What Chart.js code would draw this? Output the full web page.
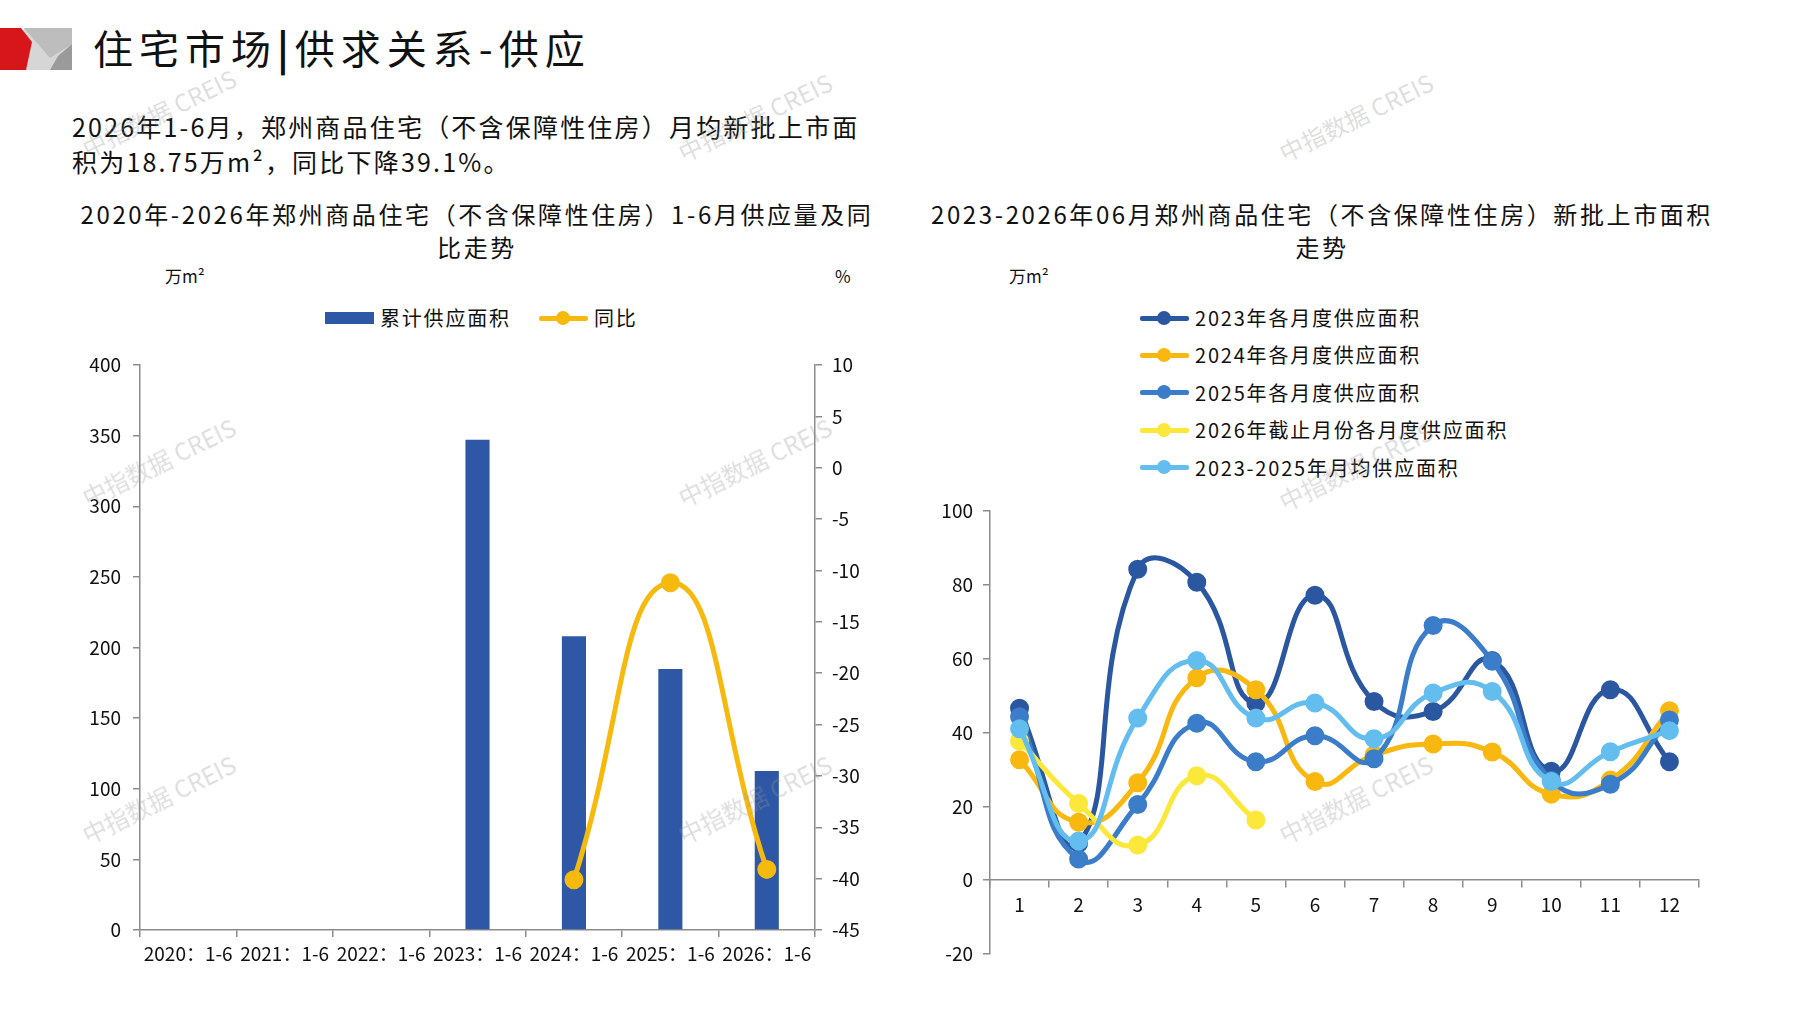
<!DOCTYPE html>
<html>
<head>
<meta charset="utf-8">
<script src="https://cdn.jsdelivr.net/npm/chart.js@4.4.1/dist/chart.umd.min.js"></script>
<style>
body{margin:0;width:1797px;height:1010px;background:#fff;position:relative;overflow:hidden;font-family:"Noto Sans CJK SC",sans-serif;color:#111}
.abs{position:absolute;white-space:nowrap}
.ctitle{position:absolute;width:900px;text-align:center;font-size:24px;line-height:33px;letter-spacing:2.6px;white-space:nowrap}
.wm{position:absolute;white-space:nowrap;font-family:"Noto Sans CJK SC",sans-serif;font-size:24px;color:rgba(150,150,150,0.32);transform:rotate(-26deg);transform-origin:center}
.lg-row{position:absolute;display:flex;align-items:center;font-size:20px;letter-spacing:1.8px;white-space:nowrap}
.lg-sym{position:relative;width:49px;height:14px;margin-right:6px}
.lg-line{position:absolute;left:0;top:5px;width:49px;height:5px;border-radius:2px}
.lg-dot{position:absolute;left:17px;top:0;width:14px;height:14px;border-radius:50%}
.lg-box{position:absolute;left:0;top:1px;width:49px;height:12px}
</style>
</head>
<body>

<svg class="abs" style="left:0;top:28px" width="74" height="43">
  <polygon points="24,0 72,0 72,42 24,42" fill="#d6d6d6"/>
  <polygon points="24,0 72,0 72,16 50,30" fill="#bdbdbd"/>
  <polygon points="72,16 72,42 50,42 58,28" fill="#9a9a9a"/>
  <polygon points="0,0 21,0 32,14 26,42 0,42" fill="#d7161c"/>
</svg>
<div class="abs" style="left:93px;top:18px;font-size:40px;letter-spacing:6px">住宅市场<span style="font-weight:bold">|</span>供求关系-供应</div>

<div class="abs" style="left:72px;top:109px;font-size:25px;line-height:35px;letter-spacing:2.2px">2026年1-6月，郑州商品住宅（不含保障性住房）月均新批上市面<br>积为18.75万m²，同比下降39.1%。</div>

<div class="ctitle" style="left:27px;top:197px">2020年-2026年郑州商品住宅（不含保障性住房）1-6月供应量及同<br>比走势</div>
<div class="abs" style="left:165px;top:263px;font-size:17px">万m²</div>
<div class="abs" style="left:835px;top:263px;font-size:17px">%</div>
<div id="legendLeft"></div>

<div class="ctitle" style="left:872px;top:197px">2023-2026年06月郑州商品住宅（不含保障性住房）新批上市面积<br>走势</div>
<div class="abs" style="left:1009px;top:263px;font-size:17px">万m²</div>
<div id="legendRight"></div>

<div class="abs" style="left:60px;top:330px;width:820px;height:660px"><canvas id="leftChart" width="820" height="660"></canvas></div>
<div class="abs" style="left:900px;top:480px;width:860px;height:520px"><canvas id="rightChart" width="860" height="520"></canvas></div>

<div id="marks"></div>

<script>
// 左图：1-6月累计供应面积（万m²）及同比（%）
var periods = ["2020：1-6", "2021：1-6", "2022：1-6", "2023：1-6", "2024：1-6", "2025：1-6", "2026：1-6"];
var supplyArea = [null, null, null, 347, 208, 184.7, 112.5];
var supplyYoY = [null, null, null, null, -40.1, -11.2, -39.1];

// 右图：各月新批上市面积（万m²）
var months = ["1", "2", "3", "4", "5", "6", "7", "8", "9", "10", "11", "12"];
var area2023 = [46.6, 10.0, 84.2, 80.7, 48.0, 77.2, 48.4, 45.7, 59.5, 29.5, 51.6, 32.1];
var area2024 = [32.6, 15.7, 26.4, 54.8, 51.6, 26.7, 33.9, 36.9, 34.7, 23.3, 27.1, 45.9];
var area2025 = [44.3, 5.7, 20.5, 42.5, 32.1, 39.1, 32.9, 69.0, 59.3, 27.0, 26.0, 43.4];
var area2026 = [37.7, 20.8, 9.5, 28.3, 16.3];
var areaAvg = [41.0, 10.6, 43.9, 59.5, 43.9, 48.0, 38.3, 50.7, 51.1, 26.7, 34.8, 40.5];

var axisGray = "#8c8c8c";
var tickFont = {family: "Noto Sans CJK SC", size: 19};

function fixSize(dim, v) {
    return function(scale) { scale[dim] = v; };
}

var leftChart = new Chart(document.getElementById("leftChart"), {
    type: "bar",
    data: {
        labels: periods,
        datasets: [
            {
                label: "累计供应面积",
                data: supplyArea,
                backgroundColor: "#2e58a6",
                yAxisID: "y",
                order: 1,
                categoryPercentage: 1,
                barPercentage: 0.25
            },
            {
                type: "line",
                label: "同比",
                data: supplyYoY,
                borderColor: "#f6b90e",
                backgroundColor: "#f6b90e",
                borderWidth: 5,
                pointRadius: 7,
                pointHoverRadius: 7,
                tension: 0.5,
                yAxisID: "y1",
                order: 0
            }
        ]
    },
    options: {
        responsive: false,
        animation: false,
        layout: {padding: {top: 35, left: 0, right: 0, bottom: 0}},
        plugins: {legend: {display: false}, tooltip: {enabled: false}},
        scales: {
            x: {
                offset: true,
                grid: {offset: true, drawOnChartArea: false, drawTicks: true, tickLength: 7, color: axisGray, lineWidth: 1.5},
                border: {color: axisGray, width: 1.5},
                ticks: {color: "#111", font: tickFont, maxRotation: 0, autoSkip: false, padding: 5},
                afterFit: fixSize("height", 60)
            },
            y: {
                position: "left",
                min: 0, max: 400,
                ticks: {stepSize: 50, color: "#111", font: tickFont, padding: 12},
                grid: {drawOnChartArea: false, drawTicks: true, tickLength: 7, color: axisGray, lineWidth: 1.5},
                border: {color: axisGray, width: 1.5},
                afterFit: fixSize("width", 80)
            },
            y1: {
                position: "right",
                min: -45, max: 10,
                ticks: {stepSize: 5, color: "#111", font: tickFont, padding: 10},
                grid: {drawOnChartArea: false, drawTicks: true, tickLength: 7, color: axisGray, lineWidth: 1.5},
                border: {color: axisGray, width: 1.5},
                afterFit: fixSize("width", 65)
            }
        }
    }
});

var lineStyle = function(label, data, color) {
    return {
        label: label,
        data: data,
        borderColor: color,
        backgroundColor: color,
        borderWidth: 5,
        pointRadius: 7,
        pointHoverRadius: 7,
        tension: 0.5
    };
};

var rightChart = new Chart(document.getElementById("rightChart"), {
    type: "line",
    data: {
        labels: months,
        datasets: [
            Object.assign(lineStyle("2023年各月度供应面积", area2023, "#2b57a1"), {order: 5}),
            Object.assign(lineStyle("2024年各月度供应面积", area2024, "#f8b80f"), {order: 4}),
            Object.assign(lineStyle("2025年各月度供应面积", area2025, "#3b7dc8"), {order: 3}),
            Object.assign(lineStyle("2026年截止月份各月度供应面积", area2026, "#fbe83a"), {order: 2}),
            Object.assign(lineStyle("2023-2025年月均供应面积", areaAvg, "#63bdee"), {order: 1})
        ]
    },
    options: {
        responsive: false,
        animation: false,
        layout: {padding: {top: 31, left: 0, right: 61, bottom: 46}},
        plugins: {legend: {display: false}, tooltip: {enabled: false}},
        scales: {
            x: {
                position: {y: 0},
                offset: true,
                grid: {offset: true, drawOnChartArea: false, drawTicks: true, tickLength: 7, color: axisGray, lineWidth: 1.5},
                border: {color: axisGray, width: 1.5},
                ticks: {color: "#111", font: tickFont, maxRotation: 0, autoSkip: false, padding: 6}
            },
            y: {
                min: -20, max: 100,
                ticks: {stepSize: 20, color: "#111", font: tickFont, padding: 10},
                grid: {drawOnChartArea: false, drawTicks: true, tickLength: 7, color: axisGray, lineWidth: 1.5},
                border: {color: axisGray, width: 1.5},
                afterFit: fixSize("width", 90)
            }
        }
    }
});

// 图例（由数据集生成）
function legendRow(ds, isBar, left, top) {
    var row = document.createElement("div");
    row.className = "lg-row";
    row.style.left = left + "px";
    row.style.top = top + "px";
    var sym = document.createElement("span");
    sym.className = "lg-sym";
    if (isBar) {
        sym.innerHTML = '<span class="lg-box" style="background:' + ds.backgroundColor + '"></span>';
    } else {
        sym.innerHTML = '<span class="lg-line" style="background:' + ds.borderColor + '"></span>' +
                        '<span class="lg-dot" style="background:' + ds.borderColor + '"></span>';
    }
    row.appendChild(sym);
    row.appendChild(document.createTextNode(ds.label));
    return row;
}

var leftLegend = document.getElementById("legendLeft");
leftLegend.appendChild(legendRow(leftChart.data.datasets[0], true, 325, 303));
leftLegend.appendChild(legendRow(leftChart.data.datasets[1], false, 539, 303));

var rightLegend = document.getElementById("legendRight");
rightChart.data.datasets.forEach(function(ds, i) {
    rightLegend.appendChild(legendRow(ds, false, 1140, 303 + i * 37.4));
});

// 水印
var markSpots = [[160, 112], [756, 116], [1357, 116], [160, 461], [756, 461], [1357, 465], [160, 798], [756, 798], [1357, 798]];
var marks = document.getElementById("marks");
markSpots.forEach(function(p) {
    var d = document.createElement("div");
    d.className = "wm";
    d.textContent = "中指数据 CREIS";
    d.style.left = (p[0] - 85) + "px";
    d.style.top = (p[1] - 17) + "px";
    marks.appendChild(d);
});
</script>
</body>
</html>
